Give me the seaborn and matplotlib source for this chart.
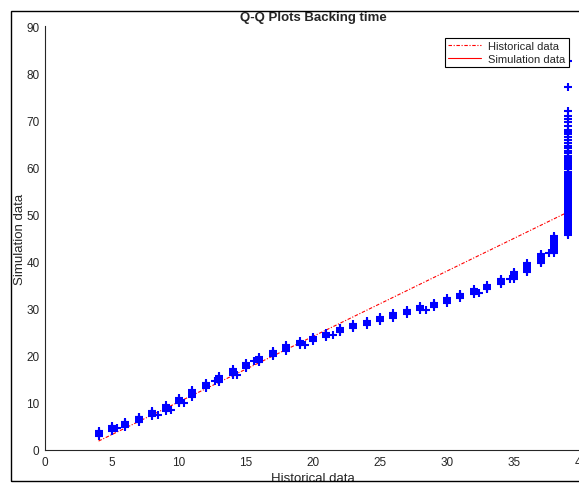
import pandas as pd
import matplotlib
matplotlib.use('Agg')
import matplotlib.pyplot as plt
from matplotlib.lines import Line2D
from matplotlib.patches import Rectangle
import seaborn as sns

# historical value levels and the simulation quantiles that fall on each level
hist_levels = [4, 5, 6, 7, 8, 9, 10, 11, 12, 13, 14, 15, 16, 17, 18, 19, 20, 21,
               22, 23, 24, 25, 26, 27, 28, 29, 30, 31, 32, 33, 34, 35, 36, 37, 38, 39]
sim_groups = [
    [3.0, 3.3, 3.6, 3.9, 4.1],
    [4.0, 4.3, 4.6, 4.9, 5.1],
    [4.9, 5.2, 5.5, 5.8, 6.0],
    [6.0, 6.3, 6.6, 6.9, 7.1],
    [7.2, 7.5, 7.8, 8.1, 8.3],
    [8.3, 8.6, 8.9, 9.2, 9.5],
    [9.9, 10.2, 10.5, 10.8, 11.1],
    [11.3, 11.6, 11.9, 12.2, 12.5, 12.7],
    [13.1, 13.4, 13.7, 14.0, 14.3],
    [14.5, 14.8, 15.1, 15.4, 15.7],
    [15.9, 16.2, 16.5, 16.8, 17.1],
    [17.3, 17.6, 17.9, 18.2, 18.5],
    [18.6, 18.9, 19.2, 19.5, 19.8],
    [19.9, 20.2, 20.5, 20.8, 21.1],
    [21.1, 21.4, 21.7, 22.0, 22.2],
    [22.2, 22.5, 22.8, 23.1],
    [23.2, 23.5, 23.8, 24.0],
    [24.0, 24.3, 24.6, 24.9],
    [25.0, 25.3, 25.6, 25.9],
    [25.8, 26.1, 26.4, 26.7],
    [26.6, 26.9, 27.2, 27.4],
    [27.4, 27.7, 28.0, 28.3],
    [28.1, 28.4, 28.7, 29.0],
    [28.9, 29.2, 29.5, 29.8],
    [29.7, 30.0, 30.3, 30.6],
    [30.4, 30.7, 31.0, 31.3],
    [31.3, 31.6, 31.9, 32.2],
    [32.3, 32.6, 32.9, 33.2],
    [33.2, 33.5, 33.8, 34.1],
    [34.1, 34.4, 34.7, 35.0],
    [35.2, 35.5, 35.8, 36.1, 36.4],
    [36.4, 36.7, 37.0, 37.3, 37.6, 37.8],
    [37.8, 38.1, 38.4, 38.7, 39.0, 39.3, 39.6],
    [39.6, 39.9, 40.2, 40.5, 40.8, 41.1, 41.4, 41.7],
    [41.9, 42.2, 42.5, 42.8, 43.1, 43.4, 43.7, 44.0, 44.3, 44.6, 44.9, 45.2, 45.4],
    [45.6, 45.9, 46.2, 46.5, 46.8, 47.1, 47.4, 47.7, 48.0, 48.3, 48.6, 48.9,
     49.2, 49.5, 49.8, 50.1, 50.4, 50.7, 51.0, 51.3, 51.6, 51.9, 52.2, 52.5,
     52.8, 53.1, 53.4, 53.7, 54.0, 54.3, 54.6, 54.9, 55.2, 55.5, 55.8, 56.1,
     56.4, 56.7, 57.0, 57.3, 57.6, 57.9, 58.2, 58.5, 58.8, 59.1, 59.6, 59.9,
     60.2, 60.5, 60.8, 61.1, 61.4, 61.7, 62.0, 62.3,
     63.0, 63.5, 64.0, 64.6, 65.2, 65.8, 66.4, 67.0, 67.5, 68.0, 68.8, 69.6,
     70.2, 71.0, 72.0, 77.0, 82.5],
]
# a few points sitting between levels
extra_x = [5.35, 8.4, 9.4, 10.4, 12.7, 14.3, 15.6, 19.4, 21.5, 28.4, 32.4, 34.7, 37.6]
extra_y = [4.6, 7.4, 8.5, 10.0, 14.6, 16.0, 18.8, 22.3, 24.5, 29.8, 33.3, 36.4, 41.9]

# fitted reference line
line_x = [4, 38.8]
line_y = [1.9, 50.2]

rows = []
for lvl, ys in zip(hist_levels, sim_groups):
    for v in ys:
        rows.append((lvl, v))
for a, b in zip(extra_x, extra_y):
    rows.append((a, b))
df = pd.DataFrame(rows, columns=['hist', 'sim'])

sns.set_style('white')
plt.rcParams['font.family'] = ['Liberation Sans', 'DejaVu Sans']
plt.rcParams['lines.scale_dashes'] = False

fig = plt.figure(figsize=(5.79, 4.85), dpi=100)
ax = fig.add_axes([45 / 579, 34 / 485, 536 / 579, 424 / 485])

sns.lineplot(x=line_x, y=line_y, ax=ax, color='#ff0000', linewidth=0.8,
             linestyle=(0, (2.5, 1.2, 0.8, 1.2)), zorder=1)
sns.scatterplot(data=df, x='hist', y='sim', ax=ax, marker='+', color='#0000ff',
                s=40, linewidth=1.5, legend=False, zorder=2)

ax.set_xlim(0, 40)
ax.set_ylim(0, 90)
ax.set_xticks(range(0, 41, 5))
ax.set_yticks(range(0, 91, 10))
ax.tick_params(direction='in', length=3.5, width=0.7, labelsize=8.5, pad=4,
               colors='#262626')
for s in ['top', 'right']:
    ax.spines[s].set_visible(False)
for s in ['left', 'bottom']:
    ax.spines[s].set_color('#262626')
    ax.spines[s].set_linewidth(0.8)

ax.set_title('Q-Q Plots Backing time', fontsize=9.5, fontweight='bold', pad=4)
ax.set_xlabel('Historical data', fontsize=9.5, labelpad=3)
ax.set_ylabel('Simulation data', fontsize=9.5, labelpad=0)

handles = [Line2D([], [], color='#ff0000', linewidth=0.8, linestyle=(0, (2.5, 1.2, 0.8, 1.2))),
           Line2D([], [], color='#ff0000', linewidth=0.8)]
leg = ax.legend(handles, ['Historical data', 'Simulation data'], loc='upper right',
                bbox_to_anchor=(569 / 579, 1 - 39 / 485), bbox_transform=fig.transFigure,
                borderaxespad=0, fontsize=8, handlelength=2.9, handletextpad=0.7,
                labelspacing=0.2, borderpad=0.3, fancybox=False, framealpha=1,
                edgecolor='black')
leg.get_frame().set_linewidth(0.8)
leg.set_zorder(5)

fig.add_artist(Rectangle((11 / 579, 1 - 482 / 485), 1.2, (482 - 12) / 485,
                         transform=fig.transFigure, fill=False, edgecolor='black',
                         linewidth=1.0, clip_on=False))

fig.savefig('out.png', dpi=100)
